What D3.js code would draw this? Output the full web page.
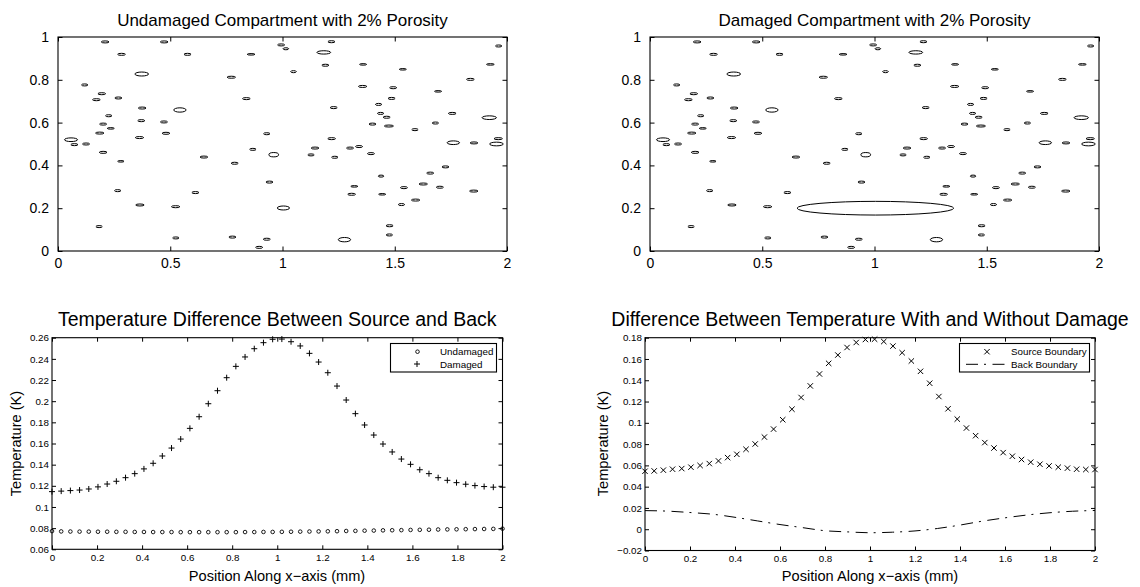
<!DOCTYPE html>
<html>
<head>
<meta charset="utf-8">
<script src="https://cdn.jsdelivr.net/npm/d3@7"></script>
<style>
  html, body { margin: 0; padding: 0; background: #fff; }
  svg { display: block; font-family: "Liberation Sans", Arial, Helvetica, sans-serif; }
</style>
</head>
<body>
<svg id="chart" width="1140" height="587"></svg>
<script>
// ---------------- DATA ----------------
// Pore ellipses (data units): centre x, centre y, semi-axis x, semi-axis y
const poreX = [0.210,0.473,0.283,0.577,0.860,0.994,1.015,1.049,0.373,0.772,0.119,0.195,0.171,0.269,0.839,0.375,0.543,0.226,0.371,0.472,0.201,0.235,0.186,0.481,0.930,0.058,0.073,0.125,0.363,0.868,0.201,0.650,0.961,0.787,0.280,0.942,0.266,0.612,0.365,0.524,0.183,0.525,0.777,0.930,0.896,1.218,1.184,1.963,1.191,1.359,1.536,1.926,1.837,1.357,1.493,1.693,1.486,1.228,1.428,1.437,1.464,1.756,1.921,1.401,1.474,1.681,1.590,1.219,1.761,1.853,1.961,1.953,1.145,1.127,1.233,1.301,1.341,1.394,1.726,1.658,1.439,1.320,1.627,1.701,1.541,1.308,1.444,1.852,1.593,1.530,1.477,1.476,1.276];
const poreY = [0.977,0.977,0.919,0.919,0.919,0.963,0.945,0.838,0.827,0.812,0.776,0.735,0.707,0.715,0.712,0.668,0.659,0.632,0.609,0.603,0.593,0.573,0.551,0.550,0.548,0.520,0.497,0.500,0.530,0.475,0.461,0.439,0.450,0.410,0.419,0.322,0.282,0.273,0.215,0.207,0.114,0.061,0.065,0.055,0.017,0.978,0.928,0.958,0.868,0.872,0.849,0.872,0.802,0.769,0.763,0.746,0.713,0.670,0.685,0.643,0.625,0.643,0.623,0.593,0.584,0.598,0.567,0.525,0.506,0.505,0.525,0.500,0.481,0.449,0.438,0.481,0.488,0.455,0.393,0.364,0.350,0.302,0.313,0.298,0.296,0.265,0.265,0.280,0.238,0.217,0.118,0.075,0.053];
const poreRx = [0.0171,0.0171,0.0171,0.0156,0.0171,0.0156,0.0126,0.0126,0.0305,0.0186,0.0141,0.0171,0.0171,0.0156,0.0171,0.0171,0.0275,0.0141,0.0156,0.0156,0.0156,0.0156,0.0186,0.0171,0.0141,0.0290,0.0156,0.0156,0.0186,0.0141,0.0171,0.0171,0.0216,0.0156,0.0141,0.0156,0.0141,0.0156,0.0186,0.0186,0.0141,0.0141,0.0156,0.0156,0.0156,0.0156,0.0305,0.0141,0.0156,0.0156,0.0156,0.0171,0.0171,0.0186,0.0156,0.0156,0.0156,0.0156,0.0141,0.0141,0.0156,0.0171,0.0320,0.0156,0.0201,0.0141,0.0141,0.0171,0.0275,0.0171,0.0186,0.0305,0.0171,0.0141,0.0141,0.0156,0.0156,0.0156,0.0156,0.0156,0.0126,0.0156,0.0186,0.0156,0.0156,0.0171,0.0156,0.0186,0.0186,0.0141,0.0156,0.0141,0.0275];
const poreRy = [0.0047,0.0047,0.0047,0.0047,0.0035,0.0047,0.0047,0.0047,0.0093,0.0047,0.0047,0.0047,0.0047,0.0047,0.0047,0.0047,0.0101,0.0047,0.0047,0.0047,0.0047,0.0035,0.0047,0.0047,0.0047,0.0086,0.0047,0.0047,0.0047,0.0047,0.0047,0.0047,0.0101,0.0047,0.0035,0.0047,0.0047,0.0047,0.0047,0.0047,0.0047,0.0047,0.0047,0.0047,0.0047,0.0047,0.0078,0.0047,0.0047,0.0035,0.0035,0.0035,0.0047,0.0047,0.0047,0.0035,0.0047,0.0047,0.0047,0.0047,0.0047,0.0047,0.0086,0.0047,0.0047,0.0047,0.0047,0.0047,0.0086,0.0047,0.0047,0.0086,0.0047,0.0047,0.0047,0.0047,0.0047,0.0047,0.0047,0.0047,0.0047,0.0035,0.0047,0.0047,0.0047,0.0047,0.0035,0.0047,0.0047,0.0047,0.0047,0.0047,0.0101];
// pore present only in the undamaged compartment (replaced by the crack)
const intactPore = {x: 1.004, y: 0.201, rx: 0.0275, ry: 0.0093};
// damage (crack) ellipse in the damaged compartment
const crack = {x: 1.004, y: 0.200, rx: 0.349, ry: 0.032};

// Sample positions along x (mm)
const xGrid = [0,0.0408,0.0816,0.1224,0.1633,0.2041,0.2449,0.2857,0.3265,0.3673,0.4082,0.4490,0.4898,0.5306,0.5714,0.6122,0.6531,0.6939,0.7347,0.7755,0.8163,0.8571,0.8980,0.9388,0.9796,1.0204,1.0612,1.1020,1.1429,1.1837,1.2245,1.2653,1.3061,1.3469,1.3878,1.4286,1.4694,1.5102,1.5510,1.5918,1.6327,1.6735,1.7143,1.7551,1.7959,1.8367,1.8776,1.9184,1.9592,2.0];

// Temperature difference between source and back (K)
const undamaged = [0.0772,0.0769,0.0768,0.0767,0.0767,0.0766,0.0766,0.0765,0.0765,0.0764,0.0764,0.0763,0.0763,0.0763,0.0762,0.0762,0.0762,0.0762,0.0762,0.0762,0.0762,0.0763,0.0763,0.0764,0.0764,0.0765,0.0766,0.0767,0.0768,0.0769,0.0770,0.0771,0.0773,0.0774,0.0776,0.0777,0.0779,0.0780,0.0781,0.0783,0.0784,0.0785,0.0787,0.0788,0.0789,0.0790,0.0791,0.0792,0.0793,0.0795];
const damaged = [0.1145,0.1150,0.1155,0.1160,0.1170,0.1190,0.1217,0.1243,0.1277,0.1315,0.1360,0.1413,0.1482,0.1557,0.1642,0.1743,0.1853,0.1976,0.2099,0.2222,0.2329,0.2418,0.2496,0.2553,0.2585,0.2587,0.2562,0.2522,0.2452,0.2370,0.2269,0.2143,0.2011,0.1882,0.1775,0.1680,0.1595,0.1520,0.1453,0.1403,0.1352,0.1315,0.1277,0.1252,0.1230,0.1215,0.1202,0.1193,0.1187,0.1187];

// Difference between temperature with and without damage (K)
const sourceBoundary = [0.0545,0.0548,0.0555,0.0564,0.0570,0.0583,0.0599,0.0617,0.0642,0.0673,0.0704,0.0751,0.0801,0.0866,0.0941,0.1029,0.1128,0.1238,0.1347,0.1459,0.1559,0.1637,0.1708,0.1755,0.1783,0.1786,0.1764,0.1721,0.1659,0.1581,0.1484,0.1372,0.1247,0.1132,0.1035,0.0951,0.0879,0.0814,0.0763,0.0720,0.0686,0.0655,0.0630,0.0611,0.0595,0.0583,0.0574,0.0564,0.0561,0.0561];
const backX = [0,0.1,0.2,0.3,0.4,0.5,0.6,0.7,0.8,0.9,1.0,1.1,1.2,1.3,1.4,1.5,1.6,1.7,1.8,1.9,2.0];
const backBoundary = [0.0175,0.0170,0.0157,0.0141,0.0112,0.0078,0.0044,0.0015,-0.0014,-0.0025,-0.0033,-0.0028,-0.0016,0.0007,0.0039,0.0076,0.0107,0.0134,0.0155,0.0169,0.0176];

// Ticks and texts
const topXTicks = [0,0.5,1,1.5,2];
const topYTicks = [0,0.2,0.4,0.6,0.8,1];
const botXTicks = [0,0.2,0.4,0.6,0.8,1,1.2,1.4,1.6,1.8,2];
const blYTicks = [0.06,0.08,0.1,0.12,0.14,0.16,0.18,0.2,0.22,0.24,0.26];
const brYTicks = [-0.02,0,0.02,0.04,0.06,0.08,0.1,0.12,0.14,0.16,0.18];
const titles = ["Undamaged Compartment with 2% Porosity","Damaged Compartment with 2% Porosity","Temperature Difference Between Source and Back","Difference Between Temperature With and Without Damage"];
const xLabel = "Position Along x\u2212axis (mm)";
const yLabel = "Temperature (K)";
const legendBL = ["Undamaged","Damaged"];
const legendBR = ["Source Boundary","Back Boundary"];

// ---------------- DRAWING ----------------
const svg = d3.select("#chart");
svg.append("rect").attr("width",1140).attr("height",587).attr("fill","#fff");

const fmt = d => {
  if (Math.abs(d) < 1e-9) return "0";
  const s = String(+d.toFixed(2));
  return d < 0 ? "\u2212" + s.slice(1) : s;
};

function matAxes(g, x, y, o) {
  const [xl, xr] = x.range(), [yb, yt] = y.range();
  const T = o.tick;
  const bx = g.append("g").attr("transform",`translate(0,${yb})`)
    .call(d3.axisBottom(x).tickValues(o.xt).tickFormat(fmt).tickSizeInner(-T).tickSizeOuter(0).tickPadding(o.xpad));
  const tx = g.append("g").attr("transform",`translate(0,${yt})`)
    .call(d3.axisTop(x).tickValues(o.xt).tickFormat("").tickSizeInner(-T).tickSizeOuter(0));
  const ly = g.append("g").attr("transform",`translate(${xl},0)`)
    .call(d3.axisLeft(y).tickValues(o.yt).tickFormat(fmt).tickSizeInner(-T).tickSizeOuter(0).tickPadding(o.ypad));
  const ry = g.append("g").attr("transform",`translate(${xr},0)`)
    .call(d3.axisRight(y).tickValues(o.yt).tickFormat("").tickSizeInner(-T).tickSizeOuter(0));
  [bx,tx,ly,ry].forEach(a => {
    a.select(".domain").remove();
    a.selectAll(".tick line").attr("stroke","#000").attr("stroke-width",1);
    a.selectAll("text").attr("fill","#000").style("font-size",o.fs+"px")
      .style("font-family",'"Liberation Sans", Arial, sans-serif');
  });
  g.append("rect").attr("x",xl).attr("y",yt).attr("width",xr-xl).attr("height",yb-yt)
    .attr("fill","none").attr("stroke","#000").attr("stroke-width",1.1);
  g.append("text").attr("x",(xl+xr)/2).attr("y",o.titleY).attr("text-anchor","middle")
    .style("font-size",o.tfs+"px").attr("fill","#000").text(o.title);
}

function porePanel(left, right, title, damagedPanel, clipId) {
  const x = d3.scaleLinear().domain([0,2]).range([left,right]);
  const y = d3.scaleLinear().domain([0,1]).range([251,37]);
  const g = svg.append("g");
  g.append("clipPath").attr("id",clipId).append("rect")
    .attr("x",left).attr("y",37).attr("width",right-left).attr("height",214);
  const pores = poreX.map((px,i)=>({x:px,y:poreY[i],rx:poreRx[i],ry:poreRy[i]}));
  pores.push(damagedPanel ? crack : intactPore);
  g.append("g").attr("clip-path",`url(#${clipId})`).selectAll("ellipse").data(pores).join("ellipse")
    .attr("cx",d=>x(d.x)).attr("cy",d=>y(d.y))
    .attr("rx",d=>x(d.rx)-x(0)).attr("ry",d=>y(0)-y(d.ry))
    .attr("fill","none").attr("stroke","#000").attr("stroke-width",1);
  matAxes(g, x, y, {xt:topXTicks, yt:topYTicks, tick:4.5, xpad:7, ypad:9, fs:14, tfs:17, titleY:26, title});
}

porePanel(58, 507, titles[0], false, "clipA");
porePanel(650, 1099, titles[1], true, "clipB");

// ---- bottom-left
{
  const x = d3.scaleLinear().domain([0,2]).range([52,502.5]);
  const y = d3.scaleLinear().domain([0.06,0.26]).range([549.3,337.7]);
  const g = svg.append("g");
  matAxes(g, x, y, {xt:botXTicks, yt:blYTicks, tick:4, xpad:5, ypad:3, fs:9.8, tfs:19.5, titleY:326, title:titles[2]});
  g.append("g").selectAll("circle").data(undamaged).join("circle")
    .attr("cx",(d,i)=>x(xGrid[i])).attr("cy",d=>y(d)).attr("r",1.8)
    .attr("fill","none").attr("stroke","#000").attr("stroke-width",0.9);
  g.append("g").selectAll("path").data(damaged).join("path")
    .attr("transform",(d,i)=>`translate(${x(xGrid[i])},${y(d)})`)
    .attr("d","M-3,0H3M0,-3V3").attr("stroke","#000").attr("stroke-width",1);
  g.append("text").attr("x",277).attr("y",581).attr("text-anchor","middle").style("font-size","14.6px").text(xLabel);
  g.append("text").attr("transform","translate(21,443.5) rotate(-90)").attr("text-anchor","middle").style("font-size","14.6px").text(yLabel);
  // legend
  const lg = g.append("g");
  lg.append("rect").attr("x",390.5).attr("y",343.5).attr("width",106).attr("height",28.5)
    .attr("fill","#fff").attr("stroke","#000").attr("stroke-width",1.1);
  lg.append("circle").attr("cx",417.5).attr("cy",351.7).attr("r",1.8).attr("fill","none").attr("stroke","#000").attr("stroke-width",0.9);
  lg.append("path").attr("transform","translate(417,364)").attr("d","M-3,0H3M0,-3V3").attr("stroke","#000");
  lg.append("text").attr("x",440).attr("y",355).style("font-size","9.8px").text(legendBL[0]);
  lg.append("text").attr("x",440).attr("y",367.5).style("font-size","9.8px").text(legendBL[1]);
}

// ---- bottom-right
{
  const x = d3.scaleLinear().domain([0,2]).range([645,1095]);
  const y = d3.scaleLinear().domain([-0.02,0.18]).range([550.5,337.7]);
  const g = svg.append("g");
  matAxes(g, x, y, {xt:botXTicks, yt:brYTicks, tick:4, xpad:5, ypad:3, fs:9.8, tfs:19.5, titleY:326, title:titles[3]});
  const line = d3.line().x((d,i)=>x(backX[i])).y(d=>y(d)).curve(d3.curveMonotoneX);
  g.append("path").datum(backBoundary).attr("d",line).attr("fill","none")
    .attr("stroke","#000").attr("stroke-width",1).attr("stroke-dasharray","12,6,2,6.5");
  g.append("g").selectAll("path").data(sourceBoundary).join("path")
    .attr("transform",(d,i)=>`translate(${x(xGrid[i])},${y(d)})`)
    .attr("d","M-2.7,-2.7L2.7,2.7M-2.7,2.7L2.7,-2.7").attr("stroke","#000").attr("stroke-width",1);
  g.append("text").attr("x",870).attr("y",581).attr("text-anchor","middle").style("font-size","14.6px").text(xLabel);
  g.append("text").attr("transform","translate(607.5,443.5) rotate(-90)").attr("text-anchor","middle").style("font-size","14.6px").text(yLabel);
  const lg = g.append("g");
  lg.append("rect").attr("x",959.5).attr("y",343.5).attr("width",130).attr("height",28.5)
    .attr("fill","#fff").attr("stroke","#000").attr("stroke-width",1.1);
  lg.append("path").attr("transform","translate(987,351.7)").attr("d","M-2.7,-2.7L2.7,2.7M-2.7,2.7L2.7,-2.7").attr("stroke","#000");
  lg.append("line").attr("x1",966).attr("x2",1007).attr("y1",364.3).attr("y2",364.3)
    .attr("stroke","#000").attr("stroke-width",1).attr("stroke-dasharray","12,6,2,6.5");
  lg.append("text").attr("x",1011).attr("y",355).style("font-size","9.8px").text(legendBR[0]);
  lg.append("text").attr("x",1011).attr("y",367.5).style("font-size","9.8px").text(legendBR[1]);
}
</script>
</body>
</html>
